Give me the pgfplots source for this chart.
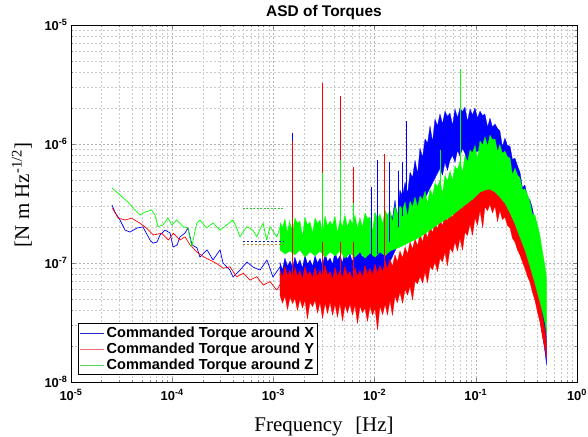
\documentclass[border=0pt]{standalone}
\usepackage{fontspec}
\setmainfont{Liberation Sans}
\newfontfamily\labelfont{Liberation Serif}
\usepackage{pgfplots}
\pgfplotsset{compat=1.18}
\definecolor{legblue}{RGB}{40,40,210}
\definecolor{legred}{RGB}{240,110,110}
\definecolor{leggreen}{RGB}{90,215,90}

\begin{document}
\begin{tikzpicture}
\begin{axis}[
  scale only axis, width=506bp, height=357bp,
  xmode=log, ymode=log,
  xmin=1e-5, xmax=1, ymin=1e-8, ymax=1e-5,
  xtick={1e-5,1e-4,1e-3,1e-2,1e-1,1},
  xticklabels={10\textsuperscript{-5},10\textsuperscript{-4},10\textsuperscript{-3},10\textsuperscript{-2},10\textsuperscript{-1},10\textsuperscript{0}},
  ytick={1e-8,1e-7,1e-6,1e-5},
  yticklabels={10\textsuperscript{-8},10\textsuperscript{-7},10\textsuperscript{-6},10\textsuperscript{-5}},
  minor xtick={2e-5,3e-5,4e-5,5e-5,6e-5,7e-5,8e-5,9e-5,2e-4,3e-4,4e-4,5e-4,6e-4,7e-4,8e-4,9e-4,2e-3,3e-3,4e-3,5e-3,6e-3,7e-3,8e-3,9e-3,0.02,0.03,0.04,0.05,0.06,0.07,0.08,0.09,0.2,0.3,0.4,0.5,0.6,0.7,0.8,0.9},
  minor ytick={2e-8,3e-8,4e-8,5e-8,6e-8,7e-8,8e-8,9e-8,2e-7,3e-7,4e-7,5e-7,6e-7,7e-7,8e-7,9e-7,2e-6,3e-6,4e-6,5e-6,6e-6,7e-6,8e-6,9e-6},
  ticklabel style={font=\bfseries\fontsize{13}{13}\selectfont},
  xticklabel style={yshift=-4bp},
  grid=both,
  major grid style={dash pattern=on 2pt off 2pt, gray!60, line width=0.4pt},
  minor grid style={dash pattern=on 2pt off 2pt, gray!40, line width=0.3pt},
  tick align=inside,
  major tick length=4bp, minor tick length=2bp,
  axis line style={black, line width=0.6pt},
  no markers,
  every axis plot/.append style={line join=round},
  title={ASD of Torques},
  title style={font=\bfseries\fontsize{15.5}{15.5}\selectfont, at={(axis description cs:0.5,1.006)}, anchor=base},
  xlabel={Frequency\hspace{0.6em}[Hz]},
  xlabel style={font=\labelfont\fontsize{21}{21}\selectfont, at={(axis description cs:0.5,-0.14)}, anchor=base},
  ylabel={[N m Hz\textsuperscript{-1/2}]},
  ylabel style={font=\labelfont\fontsize{21}{21}\selectfont, at={(axis description cs:-0.0968,0.524)}, anchor=center},
  legend style={at={(axis description cs:0.0138,0.0196)}, anchor=south west, draw=black, line width=0.6pt,
    font=\bfseries\fontsize{14.6}{16}\selectfont, inner sep=1.5pt, row sep=0pt},
  legend cell align=left,
  legend image code/.code={\draw[#1] (0bp,0bp) -- (24bp,0bp);},
]

\addlegendimage{draw=legblue, line width=0.9pt}
\addlegendentry{Commanded Torque around X}
\addlegendimage{draw=legred, line width=0.9pt}
\addlegendentry{Commanded Torque around Y}
\addlegendimage{draw=leggreen, line width=0.9pt}
\addlegendentry{Commanded Torque around Z}

% low-frequency parts of the three spectra
\addplot[blue, line width=0.7pt, forget plot] coordinates {
(2.54e-5,3.07e-7)(2.72e-5,2.68e-7)(3.05e-5,2.30e-7)(3.42e-5,1.89e-7)(3.83e-5,1.82e-7)(4.49e-5,1.97e-7)(5.14e-5,2.01e-7)(6.04e-5,1.56e-7)(6.47e-5,1.47e-7)(7.08e-5,1.50e-7)(7.58e-5,1.72e-7)(8.50e-5,1.89e-7)(9.52e-5,1.79e-7)(1.02e-4,1.36e-7)(1.12e-4,1.42e-7)(1.19e-4,1.65e-7)(1.34e-4,1.79e-7)(1.43e-4,1.97e-7)(1.57e-4,1.42e-7)(1.76e-4,1.34e-7)(1.88e-4,1.12e-7)(2.21e-4,1.29e-7)(2.53e-4,1.06e-7)(2.97e-4,1.29e-7)(3.18e-4,1.00e-7)(3.72e-4,8.73e-8)(3.99e-4,7.63e-8)(4.68e-4,8.73e-8)(5.49e-4,1.02e-7)(6.27e-4,9.25e-8)(7.37e-4,8.73e-8)(8.65e-4,1.06e-7)(9.90e-4,7.63e-8)(1.16e-3,9.25e-8)(1.36e-3,6.92e-8)(1.56e-3,1.02e-7)
};
\addplot[red, line width=0.7pt, forget plot] coordinates {
(2.57e-5,2.88e-7)(2.93e-5,2.38e-7)(3.42e-5,2.30e-7)(3.97e-5,2.38e-7)(4.81e-5,2.16e-7)(5.60e-5,1.96e-7)(6.52e-5,1.72e-7)(7.88e-5,1.78e-7)(9.16e-5,1.56e-7)(1.03e-4,1.78e-7)(1.19e-4,1.56e-7)(1.34e-4,1.66e-7)(1.50e-4,1.42e-7)(1.75e-4,1.24e-7)(2.03e-4,1.13e-7)(2.36e-4,1.06e-7)(2.75e-4,9.9e-8)(3.20e-4,9.03e-8)(3.72e-4,9.3e-8)(4.34e-4,7.67e-8)(5.05e-4,8.2e-8)(5.87e-4,7.19e-8)(6.84e-4,7.67e-8)(7.95e-4,6.53e-8)(9.25e-4,6.97e-8)(1.08e-3,5.93e-8)(1.24e-3,7.19e-8)(1.46e-3,5.18e-8)
};
\addplot[green, line width=0.7pt, forget plot] coordinates {
(2.54e-5,4.27e-7)(3.05e-5,3.73e-7)(3.66e-5,3.25e-7)(4.30e-5,2.79e-7)(4.81e-5,2.53e-7)(5.38e-5,2.68e-7)(6.27e-5,2.79e-7)(6.76e-5,2.53e-7)(7.24e-5,2.02e-7)(8.11e-5,2.09e-7)(9.09e-5,2.39e-7)(9.89e-5,2.09e-7)(1.11e-4,2.30e-7)(1.28e-4,2.02e-7)(1.43e-4,1.97e-7)(1.56e-4,1.37e-7)(1.75e-4,2.17e-7)(1.88e-4,2.30e-7)(2.19e-4,1.97e-7)(2.53e-4,2.17e-7)(2.97e-4,1.89e-7)(3.46e-4,2.09e-7)(3.99e-4,2.30e-7)(4.34e-4,1.97e-7)(4.68e-4,1.66e-7)(5.45e-4,2.02e-7)(6.27e-4,1.89e-7)(6.84e-4,1.66e-7)(7.90e-4,2.17e-7)(8.58e-4,1.56e-7)(9.25e-4,2.02e-7)(1.08e-3,1.66e-7)(1.16e-3,1.97e-7)(1.30e-3,1.42e-7)(1.46e-3,2.30e-7)
};

% dense noisy parts: upper envelope then lower envelope
\addplot[draw=blue, fill=blue, line width=0.3pt, forget plot] coordinates {
(1.16e-3,1.02e-7)(1.23e-3,8.69e-8)(1.30e-3,1.10e-7)(1.38e-3,9.39e-8)(1.46e-3,1.04e-7)(1.55e-3,9.03e-8)(1.63e-3,1.12e-7)(1.73e-3,9.57e-8)(1.83e-3,1.06e-7)(1.94e-3,9.03e-8)(2.05e-3,1.17e-7)(2.17e-3,9.76e-8)(2.30e-3,1.06e-7)(2.44e-3,9.39e-8)(2.58e-3,1.15e-7)(2.73e-3,1.00e-7)(2.89e-3,1.10e-7)(3.06e-3,9.39e-8)(3.24e-3,1.21e-7)(3.43e-3,1.02e-7)(3.63e-3,1.10e-7)(3.84e-3,9.76e-8)(4.06e-3,1.24e-7)(4.30e-3,1.06e-7)(4.55e-3,1.15e-7)(4.82e-3,1.00e-7)(5.10e-3,1.29e-7)(5.40e-3,1.08e-7)(5.71e-3,1.19e-7)(6.05e-3,1.02e-7)(6.40e-3,1.36e-7)(6.78e-3,1.15e-7)(7.17e-3,1.26e-7)(7.59e-3,1.10e-7)(8.04e-3,1.42e-7)(8.51e-3,1.19e-7)(9.01e-3,1.34e-7)(9.54e-3,1.17e-7)(1.01e-2,1.47e-7)(1.07e-2,1.35e-7)(1.13e-2,1.72e-7)(1.20e-2,1.32e-7)(1.27e-2,2.08e-7)(1.34e-2,1.78e-7)(1.42e-2,2.63e-7)(1.50e-2,2.36e-7)(1.59e-2,3.38e-7)(1.68e-2,2.39e-7)(1.78e-2,4.10e-7)(1.89e-2,3.65e-7)(2.00e-2,4.78e-7)(2.12e-2,3.85e-7)(2.24e-2,5.80e-7)(2.37e-2,5.22e-7)(2.51e-2,7.31e-7)(2.66e-2,5.63e-7)(2.81e-2,9.21e-7)(2.98e-2,7.73e-7)(3.15e-2,1.10e-6)(3.34e-2,1.02e-6)(3.53e-2,1.42e-6)(3.74e-2,1.04e-6)(3.95e-2,1.62e-6)(4.18e-2,1.42e-6)(4.43e-2,1.79e-6)(4.69e-2,1.47e-6)(4.96e-2,1.89e-6)(5.25e-2,1.70e-6)(5.56e-2,1.82e-6)(5.89e-2,1.43e-6)(6.23e-2,1.97e-6)(6.60e-2,1.66e-6)(6.98e-2,2.01e-6)(7.39e-2,1.87e-6)(7.82e-2,2.04e-6)(8.28e-2,1.54e-6)(8.77e-2,1.97e-6)(9.28e-2,1.75e-6)(9.82e-2,2.01e-6)(0.104,1.65e-6)(0.110,1.89e-6)(0.117,1.73e-6)(0.123,1.79e-6)(0.131,1.38e-6)(0.138,1.65e-6)(0.146,1.39e-6)(0.155,1.47e-6)(0.164,1.35e-6)(0.173,1.29e-6)(0.183,9.46e-7)(0.194,1.12e-6)(0.205,9.76e-7)(0.218,9.57e-7)(0.230,7.42e-7)(0.244,7.59e-7)(0.258,6.57e-7)(0.273,5.80e-7)(0.289,4.30e-7)(0.306,4.51e-7)(0.324,3.58e-7)(0.343,3.38e-7)(0.363,2.87e-7)(0.384,2.21e-7)(0.407,1.39e-7)(0.431,1.29e-7)(0.456,7.89e-8)(0.483,4.02e-8)(0.5,2.25e-8)
(0.5,1.39e-8)(0.483,1.79e-8)(0.456,2.48e-8)(0.431,3.31e-8)(0.384,5.69e-8)(0.343,8.69e-8)(0.306,1.24e-7)(0.273,1.72e-7)(0.244,2.39e-7)(0.218,3.19e-7)(0.194,3.94e-7)(0.173,4.78e-7)(0.155,5.80e-7)(0.138,7.03e-7)(0.123,8.05e-7)(0.110,8.86e-7)(9.82e-2,8.52e-7)(9.28e-2,7.31e-7)(8.77e-2,8.86e-7)(8.28e-2,6.63e-7)(7.82e-2,8.36e-7)(7.39e-2,9.21e-7)(6.98e-2,7.89e-7)(6.60e-2,8.86e-7)(6.23e-2,7.03e-7)(5.89e-2,8.05e-7)(5.56e-2,7.31e-7)(5.25e-2,6.02e-7)(4.96e-2,7.03e-7)(4.69e-2,5.47e-7)(4.43e-2,6.26e-7)(3.95e-2,5.16e-7)(3.53e-2,4.26e-7)(3.15e-2,3.51e-7)(2.81e-2,2.89e-7)(2.24e-2,2.21e-7)(1.78e-2,1.56e-7)(1.42e-2,1.02e-7)(1.13e-2,6.90e-8)(9.01e-3,5.91e-8)(7.17e-3,5.91e-8)(5.71e-3,5.69e-8)(4.55e-3,5.58e-8)(3.63e-3,5.91e-8)(2.89e-3,5.69e-8)(2.30e-3,5.91e-8)(1.83e-3,5.58e-8)(1.46e-3,5.91e-8)(1.16e-3,5.91e-8)
};
\addplot[draw=red, fill=red, line width=0.3pt, forget plot] coordinates {
(1.16e-3,8.69e-8)(1.23e-3,7.59e-8)(1.30e-3,9.39e-8)(1.38e-3,7.89e-8)(1.46e-3,8.69e-8)(1.55e-3,7.45e-8)(1.63e-3,9.21e-8)(1.73e-3,7.74e-8)(1.83e-3,8.69e-8)(1.94e-3,7.31e-8)(2.05e-3,9.39e-8)(2.17e-3,7.89e-8)(2.30e-3,8.52e-8)(2.44e-3,7.45e-8)(2.58e-3,9.21e-8)(2.73e-3,7.74e-8)(2.89e-3,8.69e-8)(3.06e-3,7.45e-8)(3.24e-3,9.57e-8)(3.43e-3,7.89e-8)(3.63e-3,8.52e-8)(3.84e-3,7.31e-8)(4.06e-3,9.21e-8)(4.30e-3,7.74e-8)(4.55e-3,8.69e-8)(4.82e-3,7.45e-8)(5.10e-3,9.39e-8)(5.40e-3,7.89e-8)(5.71e-3,8.52e-8)(6.05e-3,7.31e-8)(6.40e-3,9.21e-8)(6.78e-3,7.74e-8)(7.17e-3,8.69e-8)(7.59e-3,7.59e-8)(8.04e-3,9.57e-8)(8.51e-3,8.05e-8)(9.01e-3,9.03e-8)(9.54e-3,7.89e-8)(1.01e-2,9.76e-8)(1.07e-2,8.20e-8)(1.13e-2,9.57e-8)(1.20e-2,8.36e-8)(1.27e-2,1.04e-7)(1.34e-2,8.86e-8)(1.42e-2,1.08e-7)(1.50e-2,9.39e-8)(1.59e-2,1.17e-7)(1.68e-2,1.02e-7)(1.78e-2,1.26e-7)(1.89e-2,1.10e-7)(2.00e-2,1.36e-7)(2.12e-2,1.19e-7)(2.24e-2,1.50e-7)(2.37e-2,1.31e-7)(2.51e-2,1.59e-7)(2.66e-2,1.39e-7)(2.81e-2,1.75e-7)(2.98e-2,1.50e-7)(3.15e-2,1.86e-7)(3.34e-2,1.62e-7)(3.53e-2,2.04e-7)(3.74e-2,1.79e-7)(3.95e-2,2.21e-7)(4.18e-2,1.93e-7)(4.43e-2,2.34e-7)(4.69e-2,2.04e-7)(4.96e-2,2.58e-7)(5.25e-2,2.25e-7)(5.56e-2,2.73e-7)(5.89e-2,2.39e-7)(6.23e-2,3.07e-7)(6.60e-2,2.63e-7)(6.98e-2,3.31e-7)(7.39e-2,2.84e-7)(7.82e-2,3.58e-7)(8.28e-2,3.07e-7)(8.77e-2,3.79e-7)(9.28e-2,3.31e-7)(9.82e-2,4.18e-7)(0.104,3.65e-7)(0.110,4.51e-7)(0.117,3.94e-7)(0.123,4.78e-7)(0.131,4.10e-7)(0.138,4.60e-7)(0.146,3.94e-7)(0.155,4.34e-7)(0.164,3.72e-7)(0.173,3.79e-7)(0.183,3.31e-7)(0.194,3.38e-7)(0.205,2.89e-7)(0.218,2.95e-7)(0.230,2.53e-7)(0.244,2.30e-7)(0.258,2.01e-7)(0.273,1.82e-7)(0.289,1.56e-7)(0.306,1.44e-7)(0.324,1.24e-7)(0.343,1.06e-7)(0.363,9.03e-8)(0.384,7.59e-8)(0.407,6.26e-8)(0.431,4.87e-8)(0.456,3.58e-8)(0.483,2.73e-8)(0.5,2.04e-8)
(0.5,1.59e-8)(0.483,1.93e-8)(0.456,2.39e-8)(0.431,3.19e-8)(0.407,3.87e-8)(0.384,4.87e-8)(0.363,5.69e-8)(0.343,6.90e-8)(0.324,7.74e-8)(0.306,9.03e-8)(0.289,1.02e-7)(0.273,1.17e-7)(0.258,1.29e-7)(0.244,1.50e-7)(0.230,1.62e-7)(0.218,1.97e-7)(0.205,2.08e-7)(0.194,2.43e-7)(0.183,2.32e-7)(0.173,2.78e-7)(0.164,2.23e-7)(0.155,3.01e-7)(0.146,2.63e-7)(0.138,3.13e-7)(0.131,2.76e-7)(0.123,2.95e-7)(0.117,1.98e-7)(0.110,2.78e-7)(0.104,2.08e-7)(9.82e-2,2.39e-7)(9.28e-2,1.71e-7)(8.77e-2,2.13e-7)(8.28e-2,1.70e-7)(7.82e-2,1.82e-7)(7.39e-2,1.28e-7)(6.98e-2,1.62e-7)(6.60e-2,1.26e-7)(6.23e-2,1.50e-7)(5.89e-2,1.23e-7)(5.56e-2,1.34e-7)(5.25e-2,9.46e-8)(4.96e-2,1.24e-7)(4.69e-2,1.02e-7)(4.43e-2,1.10e-7)(4.18e-2,8.49e-8)(3.95e-2,1.02e-7)(3.74e-2,8.78e-8)(3.53e-2,9.39e-8)(3.34e-2,6.83e-8)(3.15e-2,8.36e-8)(2.98e-2,6.76e-8)(2.81e-2,7.74e-8)(2.66e-2,6.70e-8)(2.51e-2,7.03e-8)(2.37e-2,4.89e-8)(2.24e-2,6.38e-8)(2.12e-2,5.37e-8)(2.00e-2,6.02e-8)(1.89e-2,4.58e-8)(1.78e-2,5.69e-8)(1.68e-2,4.64e-8)(1.59e-2,5.26e-8)(1.50e-2,3.62e-8)(1.42e-2,4.87e-8)(1.34e-2,3.65e-8)(1.27e-2,4.51e-8)(1.20e-2,3.68e-8)(1.13e-2,4.34e-8)(1.07e-2,2.74e-8)(1.01e-2,4.18e-8)(9.54e-3,3.65e-8)(9.01e-3,4.34e-8)(8.51e-3,3.23e-8)(8.04e-3,4.18e-8)(7.59e-3,3.83e-8)(7.17e-3,4.34e-8)(6.78e-3,3.10e-8)(6.40e-3,4.42e-8)(6.05e-3,3.65e-8)(5.71e-3,4.51e-8)(5.40e-3,3.83e-8)(5.10e-3,4.42e-8)(4.82e-3,3.26e-8)(4.55e-3,4.60e-8)(4.30e-3,3.51e-8)(4.06e-3,4.51e-8)(3.84e-3,3.64e-8)(3.63e-3,4.69e-8)(3.43e-3,3.76e-8)(3.24e-3,4.60e-8)(3.06e-3,3.41e-8)(2.89e-3,4.69e-8)(2.73e-3,3.79e-8)(2.58e-3,4.87e-8)(2.44e-3,4.30e-8)(2.30e-3,4.69e-8)(2.17e-3,3.39e-8)(2.05e-3,4.87e-8)(1.94e-3,4.18e-8)(1.83e-3,4.97e-8)(1.73e-3,4.00e-8)(1.63e-3,5.06e-8)(1.55e-3,4.56e-8)(1.46e-3,5.16e-8)(1.38e-3,4.06e-8)(1.30e-3,5.26e-8)(1.23e-3,4.60e-8)(1.16e-3,5.37e-8)
};
\addplot[draw=green, fill=green, line width=0.3pt, forget plot] coordinates {
(1.16e-3,2.21e-7)(1.23e-3,1.98e-7)(1.30e-3,2.34e-7)(1.38e-3,1.77e-7)(1.46e-3,2.17e-7)(1.55e-3,1.82e-7)(1.63e-3,2.39e-7)(1.73e-3,2.15e-7)(1.83e-3,2.25e-7)(1.94e-3,1.66e-7)(2.05e-3,2.43e-7)(2.17e-3,2.08e-7)(2.30e-3,2.21e-7)(2.44e-3,1.78e-7)(2.58e-3,2.39e-7)(2.73e-3,2.14e-7)(2.89e-3,2.30e-7)(3.06e-3,1.74e-7)(3.24e-3,2.48e-7)(3.43e-3,2.04e-7)(3.63e-3,2.25e-7)(3.84e-3,2.07e-7)(4.06e-3,2.48e-7)(4.30e-3,1.79e-7)(4.55e-3,2.30e-7)(4.82e-3,2.01e-7)(5.10e-3,2.53e-7)(5.40e-3,2.00e-7)(5.71e-3,2.34e-7)(6.05e-3,2.11e-7)(6.40e-3,2.53e-7)(6.78e-3,1.95e-7)(7.17e-3,2.39e-7)(7.59e-3,2.00e-7)(8.04e-3,2.63e-7)(8.51e-3,2.36e-7)(9.01e-3,2.43e-7)(9.54e-3,1.83e-7)(1.01e-2,2.68e-7)(1.07e-2,2.35e-7)(1.13e-2,2.58e-7)(1.20e-2,2.12e-7)(1.27e-2,2.78e-7)(1.34e-2,2.51e-7)(1.42e-2,2.78e-7)(1.50e-2,2.19e-7)(1.59e-2,3.01e-7)(1.68e-2,2.53e-7)(1.78e-2,3.01e-7)(1.89e-2,2.81e-7)(2.00e-2,3.25e-7)(2.12e-2,2.44e-7)(2.24e-2,3.31e-7)(2.37e-2,2.95e-7)(2.51e-2,3.58e-7)(2.66e-2,2.94e-7)(2.81e-2,3.65e-7)(2.98e-2,3.41e-7)(3.15e-2,4.02e-7)(3.34e-2,3.16e-7)(3.53e-2,4.18e-7)(3.74e-2,3.65e-7)(3.95e-2,4.69e-7)(4.18e-2,4.39e-7)(4.43e-2,4.97e-7)(4.69e-2,3.80e-7)(4.96e-2,5.47e-7)(5.25e-2,4.88e-7)(5.56e-2,5.91e-7)(5.89e-2,4.94e-7)(6.23e-2,6.51e-7)(6.60e-2,6.09e-7)(6.98e-2,7.17e-7)(7.39e-2,5.74e-7)(7.82e-2,8.05e-7)(8.28e-2,7.03e-7)(8.77e-2,8.86e-7)(9.28e-2,8.44e-7)(9.82e-2,9.76e-7)(0.104,7.47e-7)(0.110,1.06e-6)(0.117,9.76e-7)(0.123,1.15e-6)(0.131,9.59e-7)(0.138,1.19e-6)(0.146,1.09e-6)(0.155,1.10e-6)(0.164,8.61e-7)(0.173,9.9e-7)(0.183,8.35e-7)(0.194,8.69e-7)(0.205,7.82e-7)(0.218,7.59e-7)(0.230,5.49e-7)(0.244,6.26e-7)(0.258,5.48e-7)(0.273,5.16e-7)(0.289,4.15e-7)(0.306,4.18e-7)(0.324,3.76e-7)(0.343,3.25e-7)(0.363,2.56e-7)(0.384,2.53e-7)(0.407,2.09e-7)(0.431,1.69e-7)(0.456,1.24e-7)(0.483,9.39e-8)(0.5,7.45e-8)
(0.5,2.58e-8)(0.483,3.13e-8)(0.456,3.87e-8)(0.431,4.69e-8)(0.384,6.76e-8)(0.343,9.39e-8)(0.306,1.29e-7)(0.273,1.65e-7)(0.244,2.13e-7)(0.218,2.63e-7)(0.194,3.19e-7)(0.173,3.58e-7)(0.155,3.94e-7)(0.138,4.18e-7)(0.123,4.10e-7)(0.110,3.94e-7)(9.82e-2,3.58e-7)(8.77e-2,3.31e-7)(7.82e-2,3.07e-7)(6.98e-2,2.84e-7)(6.23e-2,2.63e-7)(5.56e-2,2.43e-7)(4.96e-2,2.30e-7)(4.43e-2,2.17e-7)(3.53e-2,1.89e-7)(2.81e-2,1.65e-7)(2.24e-2,1.50e-7)(1.78e-2,1.36e-7)(1.42e-2,1.26e-7)(1.27e-2,1.15e-7)(1.13e-2,1.24e-7)(1.01e-2,1.12e-7)(9.01e-3,1.21e-7)(8.04e-3,1.10e-7)(7.17e-3,1.24e-7)(6.40e-3,1.12e-7)(5.71e-3,1.21e-7)(5.10e-3,1.10e-7)(4.55e-3,1.26e-7)(4.06e-3,1.15e-7)(3.63e-3,1.24e-7)(3.24e-3,1.12e-7)(2.89e-3,1.26e-7)(2.58e-3,1.15e-7)(2.30e-3,1.24e-7)(2.05e-3,1.12e-7)(1.83e-3,1.29e-7)(1.63e-3,1.17e-7)(1.46e-3,1.26e-7)(1.30e-3,1.19e-7)(1.16e-3,1.29e-7)
};

% narrow spectral lines
\addplot[blue, line width=0.7pt, forget plot] coordinates {(1.53e-3,1.0e-7)(1.53e-3,1.24e-6)};
\addplot[blue, line width=0.7pt, forget plot] coordinates {(9.35e-3,1.1e-7)(9.35e-3,4.34e-7)};
\addplot[blue, line width=0.7pt, forget plot] coordinates {(1.07e-2,1.2e-7)(1.07e-2,7.31e-7)};
\addplot[blue, line width=0.7pt, forget plot] coordinates {(1.39e-2,1.5e-7)(1.39e-2,7.03e-7)};
\addplot[blue, line width=0.7pt, forget plot] coordinates {(1.70e-2,2.0e-7)(1.70e-2,5.91e-7)};
\addplot[blue, line width=0.7pt, forget plot] coordinates {(1.87e-2,2.5e-7)(1.87e-2,7.03e-7)};
\addplot[blue, line width=0.7pt, forget plot] coordinates {(2.04e-2,3.0e-7)(2.04e-2,1.56e-6)};
\addplot[red, line width=0.7pt, forget plot] coordinates {(1.53e-3,6e-8)(1.53e-3,1.06e-6)};
\addplot[red, line width=0.7pt, forget plot] coordinates {(3.07e-3,6e-8)(3.07e-3,3.25e-6)};
\addplot[red, line width=0.7pt, forget plot] coordinates {(4.62e-3,6e-8)(4.62e-3,2.53e-6)};
\addplot[red, line width=0.7pt, forget plot] coordinates {(6.17e-3,6e-8)(6.17e-3,6.38e-7)};
\addplot[red, line width=0.7pt, forget plot] coordinates {(1.25e-2,7e-8)(1.25e-2,8.20e-7)};
\addplot[green, line width=0.7pt, forget plot] coordinates {(3.07e-3,1.5e-7)(3.07e-3,5.69e-7)};
\addplot[green, line width=0.7pt, forget plot] coordinates {(4.62e-3,1.5e-7)(4.62e-3,7.31e-7)};
\addplot[green, line width=0.7pt, forget plot] coordinates {(6.17e-3,1.5e-7)(6.17e-3,3.19e-7)};
\addplot[green, line width=0.7pt, forget plot] coordinates {(4.43e-2,3e-7)(4.43e-2,8.86e-7)};
\addplot[green, line width=0.7pt, forget plot] coordinates {(6.98e-2,5e-7)(6.98e-2,4.26e-6)};

% short dashed reference levels
\addplot[color={rgb,255:red,50;green,200;blue,50}, line width=0.9pt, dash pattern=on 2pt off 1.5pt, forget plot] coordinates {(5.0e-4,2.89e-7)(1.24e-3,2.89e-7)};
\addplot[color={rgb,255:red,30;green,30;blue,200}, line width=0.9pt, dash pattern=on 2.5pt off 1.5pt, forget plot] coordinates {(5.0e-4,1.53e-7)(1.24e-3,1.53e-7)};
\addplot[color={rgb,255:red,200;green,130;blue,30}, line width=0.9pt, dash pattern=on 2.5pt off 1.5pt, forget plot] coordinates {(5.0e-4,1.42e-7)(1.24e-3,1.42e-7)};
\end{axis}
\pgfresetboundingbox
\path (current axis.south west) ++(-71bp,-55bp) rectangle ([xshift=11bp,yshift=25bp]current axis.north east);
\end{tikzpicture}
\end{document}
